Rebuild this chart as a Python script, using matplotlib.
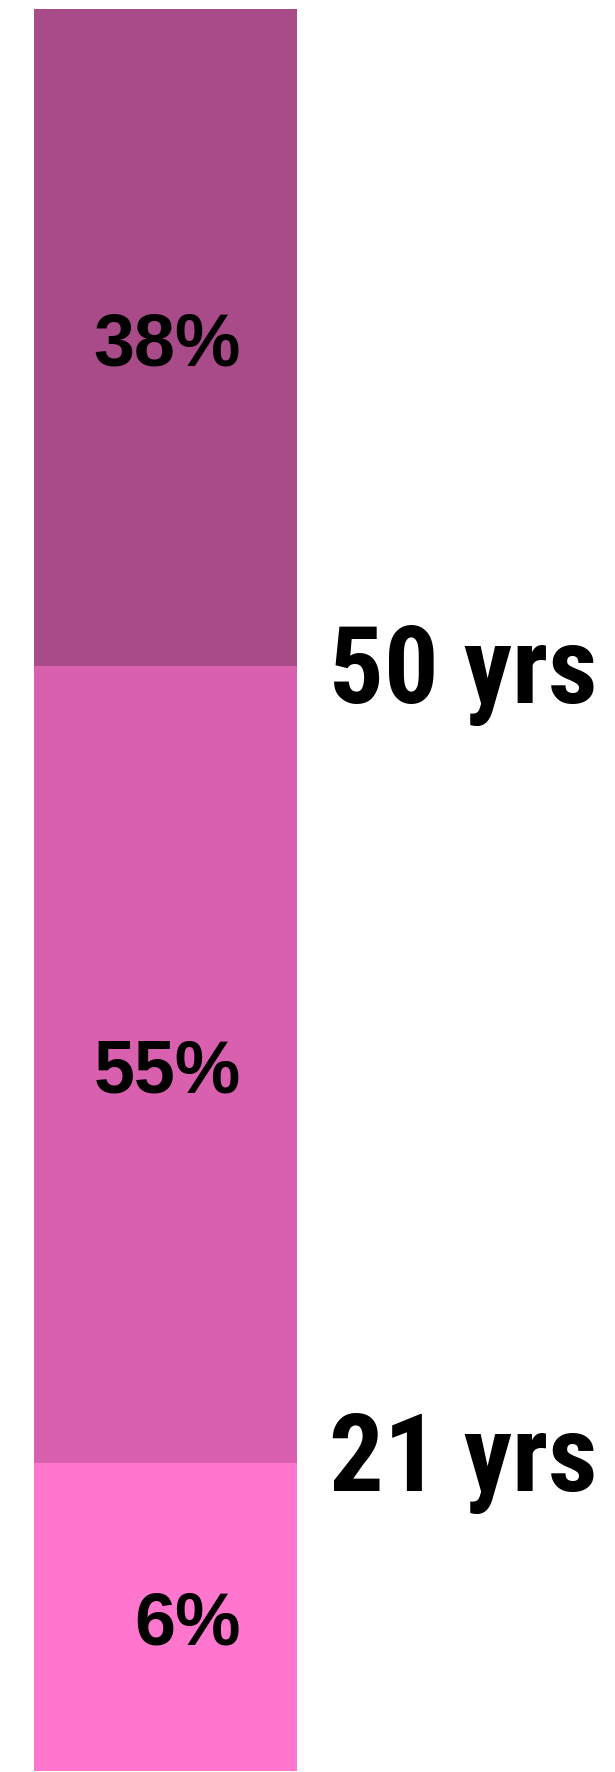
import matplotlib
matplotlib.use('Agg')
import matplotlib.pyplot as plt
import matplotlib.transforms as mtransforms
import numpy as np

# age bands, bottom to top
band_labels = ['6%', '55%', '38%']
band_height = [17.5, 45.2, 37.3]
band_colors = ['#FF76CF', '#D95FAF', '#A94B89']
boundary_labels = ['21 yrs', '50 yrs']

fig = plt.figure(figsize=(6.15, 17.72), dpi=100)
ax = fig.add_axes([34 / 615, 1 / 1772, 263 / 615, 1762 / 1772])

bottoms = np.concatenate([[0], np.cumsum(band_height)[:-1]])
ax.bar(0, band_height, bottom=bottoms, width=1, color=band_colors, linewidth=0)
ax.set_xlim(-0.5, 0.5)
ax.set_ylim(0, sum(band_height))
ax.axis('off')

trans = mtransforms.blended_transform_factory(ax.transAxes, ax.transData)
pct_trans = mtransforms.offset_copy(trans, fig=fig, y=-28, units='dots')
for lab, b, h in zip(band_labels, bottoms, band_height):
    ax.text(0.787, b + h / 2, lab, transform=pct_trans, ha='right', va='baseline',
            fontsize=53, fontweight='bold', family='Liberation Sans', color='black')

# age labels sit on the band boundaries
edges = bottoms[1:]
drops = [28, 37]
for lab, y, d in zip(boundary_labels, edges, drops):
    t = mtransforms.offset_copy(trans, fig=fig, y=-d, units='dots')
    ax.text(1.122, y, lab, transform=t, ha='left', va='baseline', clip_on=False,
            fontsize=78, fontweight='bold', family='Roboto Condensed', color='black')

fig.savefig('out.png', dpi=100, facecolor='white')
